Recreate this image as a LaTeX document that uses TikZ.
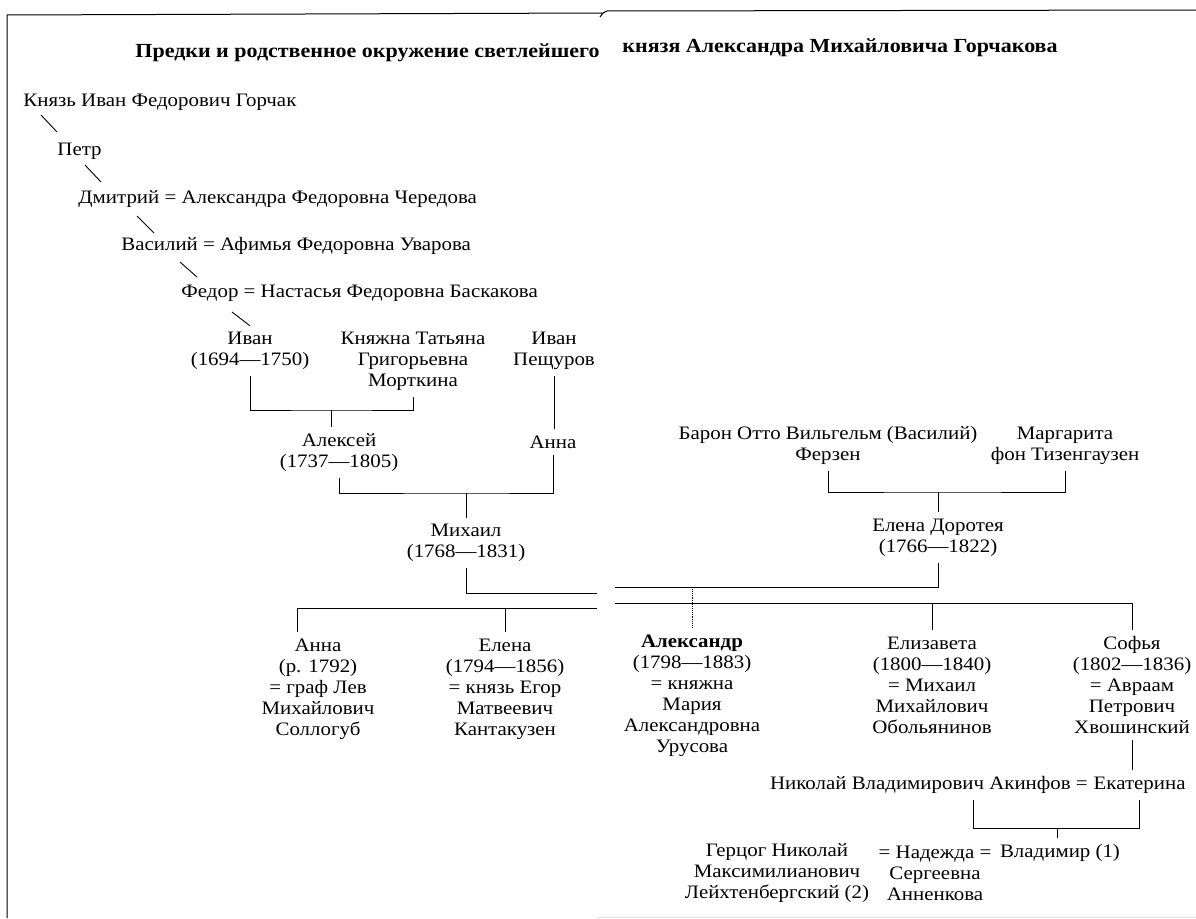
\documentclass[tikz,border=0pt]{standalone}
\usepackage{fontspec}
\setmainfont{Liberation Serif}[FakeStretch=1.1]
\usetikzlibrary{positioning}

\begin{document}
\begin{tikzpicture}[x=1pt, y=-1pt,
    person/.style={align=center, inner xsep=2pt, inner ysep=6pt, font=\fontsize{19}{21}\selectfont},
    title/.style={anchor=west, inner sep=0pt, font=\fontsize{20}{24}\selectfont\bfseries},
    every path/.style={line width=0.9pt}]
    \useasboundingbox (0,0) rectangle (1196,918);

    % Frame of the page
    \draw[line width=1pt] (7,918) -- (7,15) -- (603,13) -- (600,17);
    \draw[line width=1pt] (603,13) -- (607,11) -- (1196,10);
    \draw[black!12] (597,917) -- (1196,917);

    % Title
    \node[title] (t1) at (135,53) {Предки и родственное окружение светлейшего};
    \node[title] (t2) at (622,48) {князя Александра Михайловича Горчакова};

    % Draw nodes
    \node[person, anchor=west] (knyaz) at (21,102) {Князь Иван Федорович Горчак};
    \node[person, anchor=west] (petr) at (55,151) {Петр};
    \node[person, anchor=west] (dmitry) at (76,199) {Дмитрий = Александра Федоровна Чередова};
    \node[person, anchor=west] (vasily) at (119,246) {Василий = Афимья Федоровна Уварова};
    \node[person, anchor=west] (fedor) at (179,293) {Федор = Настасья Федоровна Баскакова};

    \node[person] (ivan) at (250,351) {Иван\\(1694—1750)};
    \node[person] (tatyana) at (413,361.5) {Княжна Татьяна\\Григорьевна\\Морткина};
    \node[person] (peshchurov) at (554,351) {Иван\\Пещуров};
    \node[person] (aleksey) at (339,452.5) {Алексей\\(1737—1805)};
    \node[person] (anna) at (553,442) {Анна};
    \node[person] (mikhail) at (466,543) {Михаил\\(1768—1831)};
    \node[person] (fersen) at (828,445.5) {Барон Отто Вильгельм (Василий)\\Ферзен};
    \node[person] (margarita) at (1065,445.5) {Маргарита\\фон Тизенгаузен};
    \node[person] (elenad) at (938,537.5) {Елена Доротея\\(1766—1822)};

    \node[person] (annak) at (318,689) {Анна\\(р. 1792)\\= граф Лев\\Михайлович\\Соллогуб};
    \node[person] (elenak) at (505,689) {Елена\\(1794—1856)\\= князь Егор\\Матвеевич\\Кантакузен};
    \node[person] (aleksandr) at (692,695.5) {\textbf{Александр}\\(1798—1883)\\= княжна\\Мария\\Александровна\\Урусова};
    \node[person] (elizaveta) at (932,685) {Елизавета\\(1800—1840)\\= Михаил\\Михайлович\\Обольянинов};
    \node[person] (sofya) at (1132,685) {Софья\\(1802—1836)\\= Авраам\\Петрович\\Хвошинский};

    \node[person, anchor=east] (ekaterina) at (1188,785) {Екатерина};
    \node[person, left=1pt of ekaterina] (akinfov) {Николай Владимирович Акинфов =};
    \node[person] (gertsog) at (777,873.5) {Герцог Николай\\Максимилианович\\Лейхтенбергский (2)};
    \node[person] (nadezhda) at (935,873.5) {= Надежда =\\Сергеевна\\Анненкова};
    \node[person] (vladimir) at (1060,853) {Владимир (1)};

    % Junctions
    \coordinate (j1) at (331,410);
    \coordinate (j2) at (466,493);
    \coordinate (j3) at (938,492);
    \coordinate (j4) at (1057,828);
    \coordinate (marl) at (597,593);
    \coordinate (marr) at (615,587);
    \coordinate (kidsl) at (597,608);
    \coordinate (kidsr) at (615,603);

    % Draw connections
    \draw ([shift={(20,13)}]knyaz.west) -- ([shift={(2,-19)}]petr.west);
    \draw ([shift={(30,14)}]petr.west) -- ([shift={(25,-17)}]dmitry.west);
    \draw ([shift={(61,17)}]dmitry.west) -- ([shift={(35,-13)}]vasily.west);
    \draw ([shift={(61,16)}]vasily.west) -- ([shift={(18,-16)}]fedor.west);
    \draw ([shift={(53,19)}]fedor.west) -- (ivan.north);

    \draw (ivan.south) |- (j1) -| (tatyana.south);
    \draw (j1) -- (j1 |- aleksey.north);
    \draw (peshchurov.south) -- (peshchurov.south |- anna.north);
    \draw (aleksey.south) |- (j2) -| (anna.south);
    \draw (j2) -- (j2 |- mikhail.north);
    \draw (fersen.south) |- (j3) -| (margarita.south);
    \draw (j3) -- (j3 |- elenad.north);

    % Marriage and children
    \draw (mikhail.south) |- (marl);
    \draw (elenad.south) |- (marr);
    \draw (kidsl) -| ([xshift=-21pt]annak.north);
    \draw (kidsl -| elenak.north) -- (elenak.north);
    \draw (kidsr) -| (sofya.north);
    \draw (kidsr -| elizaveta.north) -- (elizaveta.north);
    \draw[densely dotted] (marr -| aleksandr.north) -- (aleksandr.north);

    \draw (sofya.south) -- (sofya.south |- ekaterina.north);
    \draw ([xshift=-117pt]akinfov.south east) |- (j4) -| (ekaterina.south);
    \draw (j4) -- (j4 |- vladimir.north);
\end{tikzpicture}
\end{document}
